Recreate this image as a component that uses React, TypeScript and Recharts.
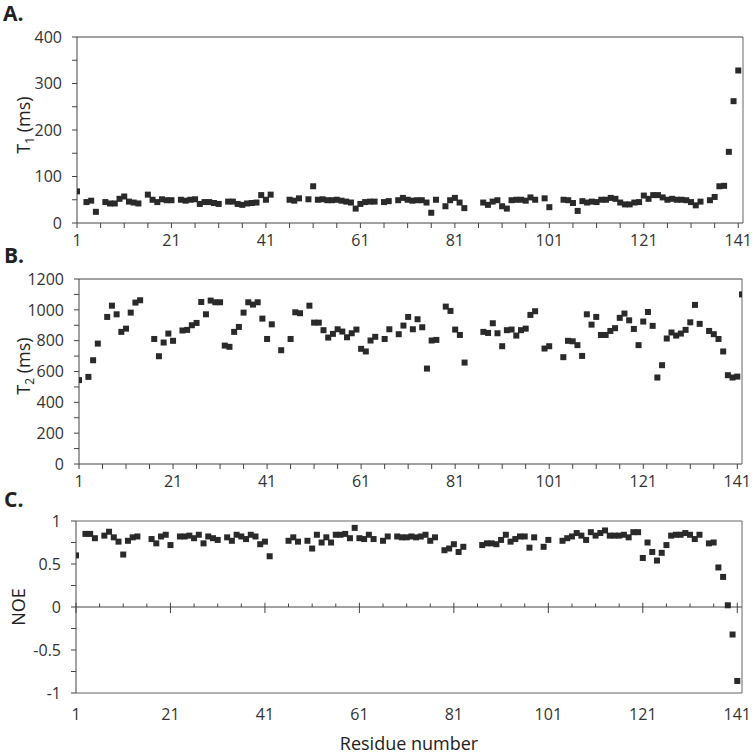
import React from 'react';
import { ScatterChart, Scatter, XAxis, YAxis, ReferenceLine } from 'recharts';

const FONT = "'Open Sans', sans-serif";

// Residue tick positions (major labels every 20, minor marks every 5)
const xTicks = [1, 6, 11, 16, 21, 26, 31, 36, 41, 46, 51, 56, 61, 66, 71, 76, 81, 86, 91, 96, 101, 106, 111, 116, 121, 126, 131, 136, 141];
const t1Ticks = [0, 50, 100, 150, 200, 250, 300, 350, 400];
const t2Ticks = [0, 100, 200, 300, 400, 500, 600, 700, 800, 900, 1000, 1100, 1200];
const noeTicks = [-1, -0.75, -0.5, -0.25, 0, 0.25, 0.5, 0.75, 1];

// Panel A: T1 (ms)
const t1Residues = [1, 3, 4, 5, 7, 8, 9, 10, 11, 12, 13, 14, 16, 17, 18, 19, 20, 21, 23, 24, 25, 26, 27, 28, 29, 30, 31, 33, 34, 35, 36, 37, 38, 39, 40, 41, 42, 46, 47, 48, 50, 51, 52, 53, 54, 55, 56, 57, 58, 59, 60, 61, 62, 63, 64, 66, 67, 69, 70, 71, 72, 73, 74, 75, 76, 77, 79, 80, 81, 82, 83, 87, 88, 89, 90, 91, 92, 93, 94, 95, 96, 97, 98, 100, 101, 104, 105, 106, 107, 108, 109, 110, 111, 112, 113, 114, 115, 116, 117, 118, 119, 120, 121, 122, 123, 124, 125, 126, 127, 128, 129, 130, 131, 132, 133, 135, 136, 137, 138, 139, 140, 141];
const t1Values = [68, 45, 48, 24, 45, 42, 42, 52, 57, 46, 44, 42, 61, 50, 45, 51, 49, 49, 50, 48, 50, 51, 41, 45, 45, 43, 41, 46, 46, 41, 39, 42, 43, 44, 60, 50, 61, 50, 48, 53, 51, 79, 50, 51, 49, 49, 50, 48, 46, 44, 31, 41, 45, 46, 46, 45, 47, 49, 54, 50, 48, 49, 49, 44, 22, 50, 36, 49, 54, 44, 32, 44, 39, 46, 49, 36, 31, 49, 50, 50, 48, 55, 50, 53, 34, 50, 49, 43, 26, 47, 44, 46, 45, 50, 50, 54, 52, 44, 40, 40, 44, 45, 59, 52, 60, 60, 55, 50, 52, 50, 50, 49, 45, 38, 46, 49, 56, 79, 80, 153, 262, 328];

// Panel B: T2 (ms)
const t2Residues = [1, 3, 4, 5, 7, 8, 9, 10, 11, 12, 13, 14, 17, 18, 19, 20, 21, 23, 24, 25, 26, 27, 28, 29, 30, 31, 32, 33, 34, 35, 36, 37, 38, 39, 40, 41, 42, 44, 46, 47, 48, 50, 51, 52, 53, 54, 55, 56, 57, 58, 59, 60, 61, 62, 63, 64, 66, 67, 69, 70, 71, 72, 73, 74, 75, 76, 77, 79, 80, 81, 82, 83, 87, 88, 89, 90, 91, 92, 93, 94, 95, 96, 97, 98, 100, 101, 104, 105, 106, 107, 108, 109, 110, 111, 112, 113, 114, 115, 116, 117, 118, 119, 120, 121, 122, 123, 124, 125, 126, 127, 128, 129, 130, 131, 132, 133, 135, 136, 137, 138, 139, 140, 141, 142];
const t2Values = [544, 565, 673, 781, 954, 1027, 971, 857, 878, 982, 1047, 1062, 811, 699, 788, 846, 799, 866, 870, 900, 915, 1051, 971, 1060, 1049, 1049, 768, 760, 857, 889, 982, 1049, 1034, 1049, 943, 811, 906, 738, 811, 984, 978, 1027, 917, 917, 868, 820, 844, 874, 859, 822, 848, 872, 747, 730, 801, 825, 811, 874, 842, 898, 954, 874, 939, 887, 619, 801, 805, 1021, 993, 872, 837, 658, 857, 850, 913, 848, 764, 868, 872, 833, 868, 878, 967, 991, 749, 764, 693, 799, 796, 771, 701, 971, 904, 954, 837, 837, 863, 881, 948, 976, 932, 876, 771, 924, 986, 896, 561, 641, 814, 853, 833, 846, 870, 919, 1032, 909, 863, 842, 811, 730, 576, 561, 567, 1100];

// Panel C: NOE
const noeResidues = [1, 3, 4, 5, 7, 8, 9, 10, 11, 12, 13, 14, 17, 18, 19, 20, 21, 23, 24, 25, 26, 27, 28, 29, 30, 31, 33, 34, 35, 36, 37, 38, 39, 40, 41, 42, 46, 47, 48, 50, 51, 52, 53, 54, 55, 56, 57, 58, 59, 60, 61, 62, 63, 64, 66, 67, 69, 70, 71, 72, 73, 74, 75, 76, 77, 79, 80, 81, 82, 83, 87, 88, 89, 90, 91, 92, 93, 94, 95, 96, 97, 98, 100, 101, 104, 105, 106, 107, 108, 109, 110, 111, 112, 113, 114, 115, 116, 117, 118, 119, 120, 121, 122, 123, 124, 125, 126, 127, 128, 129, 130, 131, 132, 133, 135, 136, 137, 138, 139, 140, 141];
const noeValues = [0.6, 0.85, 0.85, 0.8, 0.83, 0.875, 0.81, 0.76, 0.61, 0.77, 0.81, 0.82, 0.79, 0.74, 0.82, 0.84, 0.72, 0.82, 0.82, 0.83, 0.8, 0.84, 0.74, 0.82, 0.8, 0.78, 0.81, 0.77, 0.84, 0.82, 0.79, 0.84, 0.82, 0.73, 0.76, 0.59, 0.77, 0.81, 0.76, 0.77, 0.68, 0.84, 0.75, 0.81, 0.75, 0.84, 0.84, 0.85, 0.8, 0.92, 0.8, 0.79, 0.84, 0.79, 0.77, 0.82, 0.82, 0.81, 0.81, 0.82, 0.81, 0.82, 0.84, 0.77, 0.81, 0.66, 0.68, 0.73, 0.64, 0.7, 0.72, 0.74, 0.74, 0.73, 0.78, 0.84, 0.76, 0.79, 0.82, 0.82, 0.69, 0.81, 0.7, 0.78, 0.77, 0.8, 0.82, 0.86, 0.83, 0.78, 0.87, 0.83, 0.86, 0.89, 0.83, 0.83, 0.83, 0.84, 0.81, 0.87, 0.87, 0.57, 0.75, 0.64, 0.54, 0.63, 0.72, 0.83, 0.84, 0.84, 0.86, 0.84, 0.79, 0.84, 0.74, 0.75, 0.46, 0.35, 0.02, -0.32, -0.86];

const t1Data = t1Residues.map((r, i) => ({ x: r, y: t1Values[i] }));
const t2Data = t2Residues.map((r, i) => ({ x: r, y: t2Values[i] }));
const noeData = noeResidues.map((r, i) => ({ x: r, y: noeValues[i] }));

const AXIS = '#444';
const BORDER = '#666';
const TICK_STYLE = { fill: '#333', fontSize: 16, fontFamily: FONT };

const fmtX = (v: number) => ((v - 1) % 20 === 0 ? String(v) : '');

const Square = (props: any) => {
  const { cx, cy } = props;
  if (cx == null || cy == null) return null;
  return <rect x={cx - 3} y={cy - 3} width={6} height={6} fill="#2a2a2a" />;
};

export default function App() {
  return (
    <div style={{ position: 'absolute', left: 0, top: 0, width: 756, height: 754, background: '#fff', fontFamily: FONT }}>
      {/* Panel A */}
      <div style={{ position: 'absolute', left: 0, top: 0 }}>
        <ScatterChart width={756} height={262} margin={{ top: 37, right: 13, bottom: 0, left: 0 }}>
          <XAxis type="number" dataKey="x" domain={[1, 142]} ticks={xTicks} interval={0} tickFormatter={fmtX}
            height={39} tickSize={5} tickMargin={7} stroke={AXIS} tick={TICK_STYLE} allowDataOverflow />
          <YAxis type="number" dataKey="y" domain={[0, 400]} ticks={t1Ticks} interval={0}
            tickFormatter={(v: number) => (v % 100 === 0 ? String(v) : '')}
            width={77} tickSize={5} tickMargin={10} stroke={AXIS} tick={TICK_STYLE} allowDataOverflow />
          <ReferenceLine y={400} stroke={AXIS} />
          <ReferenceLine x={142} stroke={BORDER} />
          <Scatter data={t1Data} shape={Square} isAnimationActive={false} />
        </ScatterChart>
      </div>

      {/* Panel B */}
      <div style={{ position: 'absolute', left: 0, top: 245 }}>
        <ScatterChart width={756} height={260} margin={{ top: 34, right: 14, bottom: 0, left: 0 }}>
          <XAxis type="number" dataKey="x" domain={[1, 142]} ticks={xTicks} interval={0} tickFormatter={fmtX}
            height={41} tickSize={5} tickMargin={7} stroke={AXIS} tick={TICK_STYLE} allowDataOverflow />
          <YAxis type="number" dataKey="y" domain={[0, 1200]} ticks={t2Ticks} interval={0}
            tickFormatter={(v: number) => (v % 200 === 0 ? String(v) : '')}
            width={79} tickSize={5} tickMargin={10} stroke={AXIS} tick={TICK_STYLE} allowDataOverflow />
          <ReferenceLine y={1200} stroke={AXIS} />
          <ReferenceLine x={142} stroke={BORDER} />
          <Scatter data={t2Data} shape={Square} isAnimationActive={false} />
        </ScatterChart>
      </div>

      {/* Panel C */}
      <div style={{ position: 'absolute', left: 0, top: 490 }}>
        <ScatterChart width={756} height={264} margin={{ top: 31, right: 14, bottom: 0, left: 0 }}>
          <XAxis type="number" dataKey="x" domain={[1, 142]} ticks={xTicks} interval={0} tickFormatter={fmtX}
            height={61} tickLine={false} tickSize={6} tickMargin={10} stroke={BORDER} tick={TICK_STYLE} allowDataOverflow
            label={{ value: 'Residue number', position: 'insideBottom', offset: 4, fill: '#222', fontSize: 18, fontFamily: FONT }} />
          <YAxis type="number" dataKey="y" domain={[-1, 1]} ticks={noeTicks} interval={0}
            tickFormatter={(v: number) => ((v * 2) % 1 === 0 ? String(v) : '')}
            width={76} tickSize={5} tickMargin={10} stroke={AXIS} tick={TICK_STYLE} allowDataOverflow />
          <ReferenceLine y={1} stroke={BORDER} />
          <ReferenceLine x={142} stroke={BORDER} />
          <ReferenceLine y={0} stroke={AXIS} />
          {xTicks.map((t) => {
            const major = (t - 1) % 20 === 0;
            return (
              <ReferenceLine key={'zt' + t} segment={[{ x: t, y: major ? -0.07 : 0 }, { x: t, y: major ? 0.05 : 0.04 }]} stroke={AXIS} />
            );
          })}
          <Scatter data={noeData} shape={Square} isAnimationActive={false} />
        </ScatterChart>
      </div>

      {/* Panel letters and axis titles */}
      <svg width={756} height={754} style={{ position: 'absolute', left: 0, top: 0, pointerEvents: 'none' }}>
        <g fontFamily={FONT} fontWeight="bold" fontSize={21} fill="#222">
          <text x={3} y={21}>A.</text>
          <text x={4} y={263}>B.</text>
          <text x={4} y={507}>C.</text>
        </g>
        <g fontFamily={FONT} fontSize={18} fill="#222">
          <text x={30} y={125} textAnchor="middle" transform="rotate(-90 30 125)">
            T<tspan fontSize={12} dy={4}>1</tspan><tspan dy={-4}> (ms)</tspan>
          </text>
          <text x={30} y={366} textAnchor="middle" transform="rotate(-90 30 366)">
            T<tspan fontSize={12} dy={4}>2</tspan><tspan dy={-4}> (ms)</tspan>
          </text>
          <text x={25} y={607} textAnchor="middle" transform="rotate(-90 25 607)">NOE</text>
        </g>
      </svg>
    </div>
  );
}
